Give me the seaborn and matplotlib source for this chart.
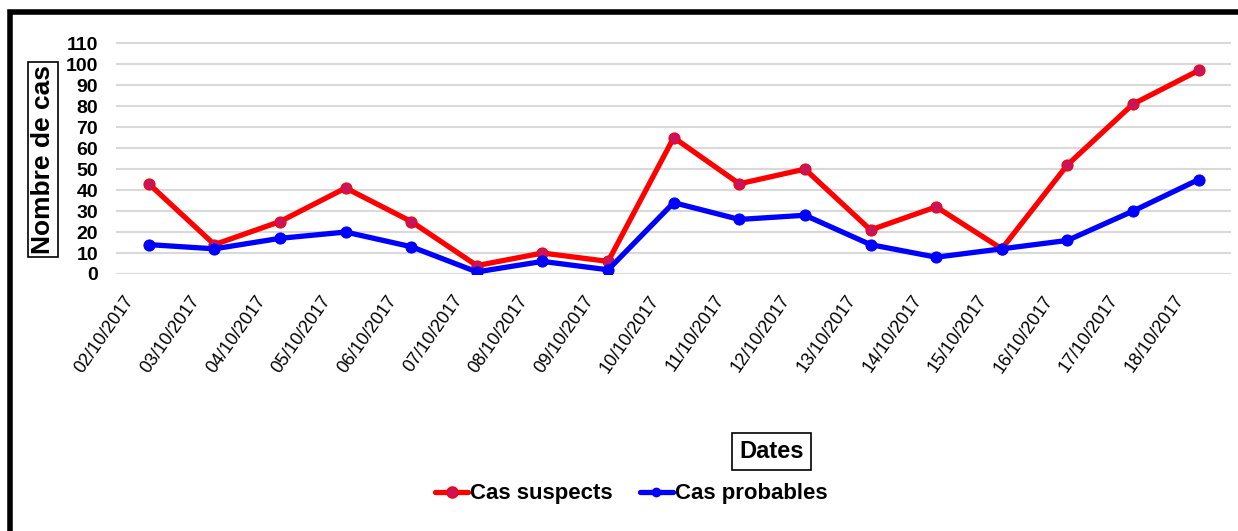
import matplotlib
matplotlib.use("Agg")
import matplotlib.pyplot as plt
import matplotlib.transforms as mtransforms
import seaborn as sns
import pandas as pd
from matplotlib.patches import Rectangle

# data
dates = ["02/10/2017", "03/10/2017", "04/10/2017", "05/10/2017", "06/10/2017",
         "07/10/2017", "08/10/2017", "09/10/2017", "10/10/2017", "11/10/2017",
         "12/10/2017", "13/10/2017", "14/10/2017", "15/10/2017", "16/10/2017",
         "17/10/2017", "18/10/2017"]
cas_suspects = [43, 14, 25, 41, 25, 4, 10, 6, 65, 43, 50, 21, 32, 12, 52, 81, 97]
cas_probables = [14, 12, 17, 20, 13, 1, 6, 2, 34, 26, 28, 14, 8, 12, 16, 30, 45]
y_ticks = list(range(0, 111, 10))

sns.set_style("white")
plt.rcParams['font.family'] = ['Liberation Sans', 'DejaVu Sans']
plt.rcParams['text.color'] = 'black'
plt.rcParams['xtick.color'] = 'black'
plt.rcParams['ytick.color'] = 'black'

df = pd.DataFrame({
    "idx": list(range(len(dates))) * 2,
    "valeur": cas_suspects + cas_probables,
    "serie": ["Cas suspects"] * len(dates) + ["Cas probables"] * len(dates),
})

fig = plt.figure(figsize=(12.38, 5.31), dpi=100)
ax = fig.add_axes([0.0937, 0.484, 0.901, 0.437])

sns.lineplot(data=df, x="idx", y="valeur", hue="serie",
             palette={"Cas suspects": "#ff0000", "Cas probables": "#0000ff"},
             marker="o", markersize=8, linewidth=3.8, ax=ax, legend=False)
# recolour marker faces like the original
ax.lines[0].set_markerfacecolor("#c8145a")
ax.lines[0].set_markeredgecolor("#ff0000")
ax.lines[1].set_markerfacecolor("#0000ff")
ax.lines[1].set_markeredgecolor("#0000ff")

ax.set_xlim(-0.5, len(dates) - 0.5)
ax.set_ylim(0, 110.6)
ax.set_yticks(y_ticks)
ax.set_yticklabels([str(v) for v in y_ticks], fontsize=14, fontweight="bold")
ax.set_xticks(range(len(dates)))
ax.tick_params(axis="y", length=0, pad=13)
ax.tick_params(axis="x", length=0, pad=0)
ax.set_xticklabels(dates, rotation=55, ha="right", va="center",
                   rotation_mode="anchor", fontsize=13)
# shift the date labels down and left (after tick_params, which resets transforms)
shift = mtransforms.ScaledTranslation(-0.18, -0.23, fig.dpi_scale_trans)
for lab in ax.get_xticklabels():
    lab.set_transform(lab.get_transform() + shift)
ax.grid(axis="y", color="#d9d9d9", linewidth=1.5)
ax.set_axisbelow(True)
for s in ax.spines.values():
    s.set_visible(False)
ax.set_xlabel("")
ax.set_ylabel("")

# boxed axis titles
fig.text(0.035, 0.70, "Nombre de cas", rotation=90, ha="center", va="center",
         fontsize=19, fontweight="bold",
         bbox=dict(boxstyle="square,pad=0.12", fc="white", ec="black", lw=1.2))
fig.text(0.623, 0.150, "Dates", ha="center", va="center", fontsize=17, fontweight="bold",
         bbox=dict(boxstyle="square,pad=0.3", fc="white", ec="black", lw=1.2))

# legend
handles = [
    plt.Line2D([], [], color="#ff0000", lw=3.8, marker="o", markersize=8,
               markerfacecolor="#c8145a", markeredgecolor="#ff0000"),
    plt.Line2D([], [], color="#0000ff", lw=3.8, marker="o", markersize=6,
               markerfacecolor="#0000ff", markeredgecolor="#0000ff"),
]
fig.legend(handles, ["Cas suspects", "Cas probables"], loc="center",
           bbox_to_anchor=(0.51, 0.07), ncol=2, frameon=False, handlelength=1.5,
           handletextpad=0.1, columnspacing=1.2,
           prop={"size": 16, "weight": "bold"})

# thick outer frame (top and left visible, rest cropped)
fig.patches.append(Rectangle((0.008, -0.1), 1.2, 1.078, transform=fig.transFigure,
                             fill=False, ec="black", lw=4, zorder=10))

fig.savefig("out.png", dpi=100)
